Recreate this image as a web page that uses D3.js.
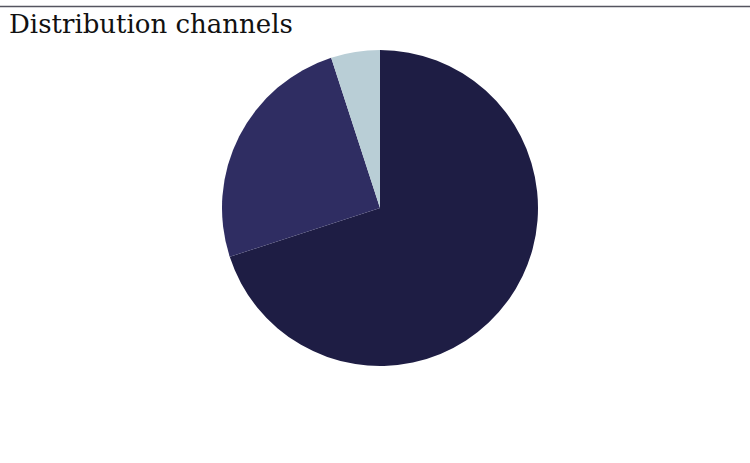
<!DOCTYPE html>
<html>
<head>
<meta charset="utf-8">
<script src="https://cdn.jsdelivr.net/npm/d3@7"></script>
<style>
  body { margin: 0; background: #fff; }
</style>
</head>
<body>
<div id="chart"></div>
<script>
var channels = ["Direct", "Partners", "Online"],
    shares = [70, 25, 5],
    colors = ["#1e1d44", "#2f2d62", "#b9ced6"];

var w = 750, h = 463,
    cx = 380, cy = 208, r = 158;

var svg = d3.select("#chart").append("svg").attr("width", w).attr("height", h);

svg.append("line")
  .attr("x1", 0).attr("x2", w)
  .attr("y1", 6.5).attr("y2", 6.5)
  .attr("stroke", "#55555f").attr("stroke-width", 1.5);

svg.append("text")
  .attr("x", 9).attr("y", 33)
  .attr("font-family", "DejaVu Serif")
  .attr("font-size", 26)
  .attr("fill", "#111")
  .text("Distribution channels");

var pie = d3.pie().sort(null).value(function (d) { return d; });
var arc = d3.arc().innerRadius(0).outerRadius(r);
var color = d3.scaleOrdinal().domain(channels).range(colors);

svg.append("g")
  .attr("transform", "translate(" + cx + "," + cy + ")")
  .selectAll("path")
  .data(pie(shares))
  .enter().append("path")
  .attr("d", arc)
  .attr("fill", function (d, i) { return color(channels[i]); });
</script>
</body>
</html>
